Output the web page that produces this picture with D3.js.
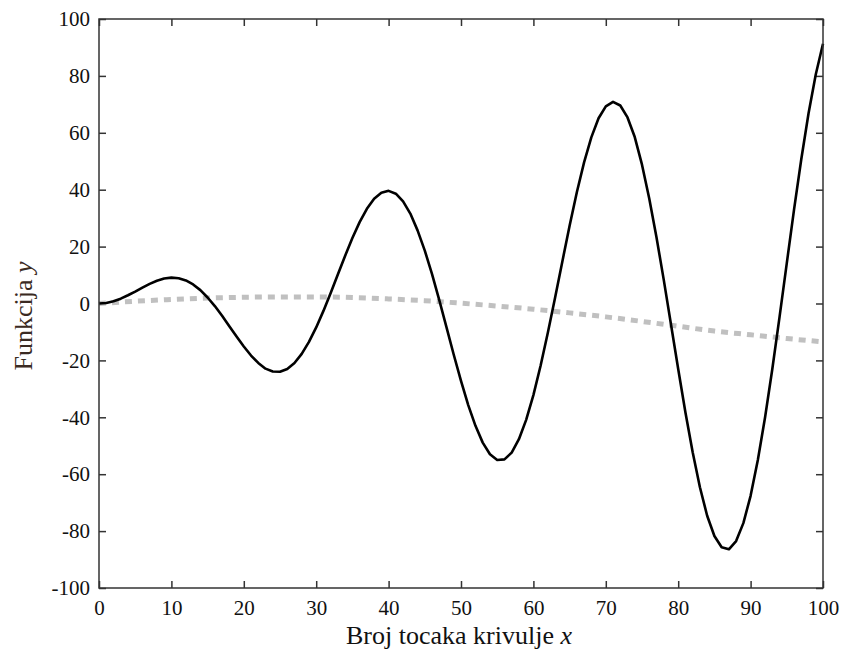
<!DOCTYPE html>
<html>
<head>
<meta charset="utf-8">
<script src="https://cdn.jsdelivr.net/npm/d3@7"></script>
<style>
  html, body { margin: 0; padding: 0; background: #fff; }
  svg { display: block; }
  text { font-family: "Liberation Serif", "Times New Roman", serif; }
</style>
</head>
<body>
<svg id="chart" width="844" height="656"></svg>
<script>
// ---- data ----
const xSamples = [0,1,2,3,4,5,6,7,8,9,10,11,12,13,14,15,16,17,18,19,20,21,22,23,24,25,26,27,28,29,30,31,32,33,34,35,36,37,38,39,40,41,42,43,44,45,46,47,48,49,50,51,52,53,54,55,56,57,58,59,60,61,62,63,64,65,66,67,68,69,70,71,72,73,74,75,76,77,78,79,80,81,82,83,84,85,86,87,88,89,90,91,92,93,94,95,96,97,98,99,100];
const curveY = [0,0.2,0.8,1.7,2.9,4.2,5.6,6.9,8.0,8.8,9.1,8.9,8.1,6.7,4.7,2.1,-0.9,-4.3,-8.0,-11.6,-15.1,-18.3,-20.9,-22.9,-23.9,-24.0,-23.0,-20.9,-17.7,-13.5,-8.4,-2.6,3.7,10.3,16.8,23.0,28.6,33.3,36.8,38.9,39.6,38.6,35.9,31.6,25.7,18.6,10.3,1.2,-8.4,-18.0,-27.2,-35.7,-43.0,-48.9,-53.0,-55.0,-54.8,-52.4,-47.7,-40.9,-32.2,-21.8,-10.2,2.1,14.8,27.3,39.1,49.6,58.4,65.1,69.3,70.9,69.6,65.4,58.5,48.8,36.9,23.3,8.4,-7.3,-23.0,-38.3,-52.3,-64.6,-74.6,-81.7,-85.7,-86.4,-83.5,-77.2,-67.6,-55.0,-40.0,-23.0,-4.7,14.2,33.0,50.7,66.8,80.5,91.3];
const fitX = [0,5,10,15,20,25,30,35,40,45,50,55,60,65,70,75,80,85,90,95,100];
const fitY = [0,0.8,1.4,1.9,2.2,2.3,2.3,2.1,1.6,1.0,0.1,-0.9,-2.0,-3.3,-4.7,-6.3,-8.0,-9.7,-11.0,-12.3,-13.5];
const xTicks = [0,10,20,30,40,50,60,70,80,90,100];
const yTicks = [-100,-80,-60,-40,-20,0,20,40,60,80,100];
const xLabel = "Broj tocaka krivulje ";
const xLabelVar = "x";
const yLabel = "Funkcija ";
const yLabelVar = "y";

// ---- layout ----
const svg = d3.select("#chart");
const L = 99, R = 823, T = 19, B = 588;
const x = d3.scaleLinear().domain([0, 100]).range([L, R]);
const y = d3.scaleLinear().domain([-100, 100]).range([B, T]);

const axisColor = "#333";
const tickLen = 7;

function styleAxis(g, showLabels) {
  g.select(".domain").remove();
  g.selectAll(".tick line").attr("stroke", axisColor).attr("stroke-width", 1.5);
  g.selectAll(".tick text")
    .attr("fill", "#111")
    .style("font-size", "21px")
    .style("font-family", "'Liberation Serif', serif");
  if (!showLabels) g.selectAll(".tick text").remove();
}

// bottom
svg.append("g").attr("transform", `translate(0,${B})`)
  .call(d3.axisBottom(x).tickValues(xTicks).tickSizeInner(-tickLen).tickSizeOuter(0).tickPadding(12).tickFormat(d3.format("d")))
  .call(g => styleAxis(g, true));
// top
svg.append("g").attr("transform", `translate(0,${T})`)
  .call(d3.axisTop(x).tickValues(xTicks).tickSizeInner(-tickLen).tickSizeOuter(0))
  .call(g => styleAxis(g, false));
// left
svg.append("g").attr("transform", `translate(${L},0)`)
  .call(d3.axisLeft(y).tickValues(yTicks).tickSizeInner(-tickLen).tickSizeOuter(0).tickPadding(9).tickFormat(d3.format("d")))
  .call(g => styleAxis(g, true));
// right
svg.append("g").attr("transform", `translate(${R},0)`)
  .call(d3.axisRight(y).tickValues(yTicks).tickSizeInner(-tickLen).tickSizeOuter(0))
  .call(g => styleAxis(g, false));

// fix minus sign to hyphen as in reference
svg.selectAll(".tick text").text(function() { return this.textContent.replace("\u2212", "-"); });

// fit line (gray dashed)
const fitLine = d3.line().x((d, i) => x(fitX[i])).y(d => y(d)).curve(d3.curveMonotoneX);
svg.append("path")
  .datum(fitY)
  .attr("d", fitLine)
  .attr("fill", "none")
  .attr("stroke", "#c0c0c0")
  .attr("stroke-width", 5)
  .attr("stroke-dasharray", "7,6");

// main curve
const curveLine = d3.line().x((d, i) => x(xSamples[i])).y(d => y(d));
svg.append("path")
  .datum(curveY)
  .attr("d", curveLine)
  .attr("fill", "none")
  .attr("stroke", "#000")
  .attr("stroke-width", 2.6)
  .attr("stroke-linejoin", "round");

// box
svg.append("rect")
  .attr("x", L).attr("y", T).attr("width", R - L).attr("height", B - T)
  .attr("fill", "none").attr("stroke", axisColor).attr("stroke-width", 1.5);

// x label
const xt = svg.append("text")
  .attr("x", (L + R) / 2 - 2).attr("y", 644)
  .attr("text-anchor", "middle")
  .style("font-size", "26px").attr("fill", "#111");
xt.append("tspan").text(xLabel);
xt.append("tspan").style("font-style", "italic").text(xLabelVar);

// y label
const yt = svg.append("text")
  .attr("transform", `translate(32,316) rotate(-90)`)
  .attr("text-anchor", "middle")
  .style("font-size", "26px").attr("fill", "#3a2a22");
yt.append("tspan").text(yLabel);
yt.append("tspan").style("font-style", "italic").text(yLabelVar);
</script>
</body>
</html>
